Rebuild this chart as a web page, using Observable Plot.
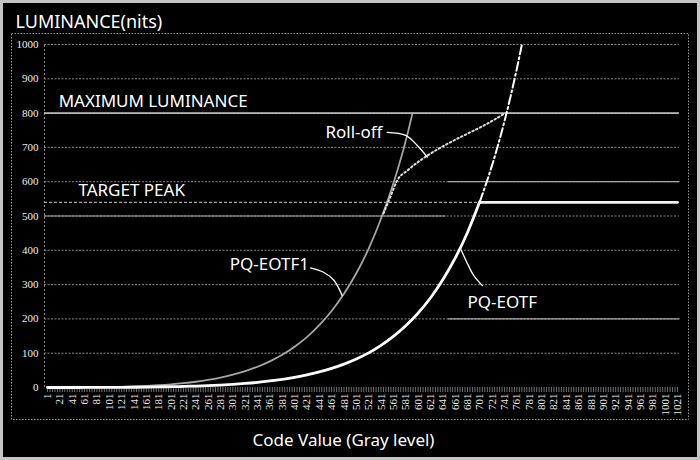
<!DOCTYPE html>
<html><head><meta charset="utf-8">
<script src="https://cdn.jsdelivr.net/npm/d3@7"></script>
<script src="https://cdn.jsdelivr.net/npm/@observablehq/plot@0.6"></script>
<style>
html,body{margin:0;padding:0;background:#000;}
#chart svg{display:block;outline:3px solid #c4c4c4;outline-offset:-3px;}
</style></head><body><div id="chart"></div>
<script>
// ---- data ----
const xTicks = [1,21,41,61,81,101,121,141,161,181,201,221,241,261,281,301,321,341,361,381,401,421,441,461,481,501,521,541,561,581,601,621,641,661,681,701,721,741,761,781,801,821,841,861,881,901,921,941,961,981,1001,1021];
const yTicks = [0,100,200,300,400,500,600,700,800,900,1000];

// PQ-EOTF (white, solid part up to the target peak)
const pqCodes = [1,21,41,61,81,101,121,141,161,181,201,221,241,261,281,301,321,341,361,381,401,421,441,461,481,501,521,541,561,581,601,621,641,661,681,701];
const pqNits  = [0,0.01,0.04,0.09,0.18,0.31,0.51,0.78,1.16,1.65,2.3,3.1,4.2,5.5,7.2,9.3,11.9,15.1,19.1,23.9,29.7,36.8,45.4,55.7,68.2,83.2,101,123,149,180,217,261,314,377,452,542];
// PQ-EOTF above the target peak (dash-dot)
const pqUpperCodes = [701,721,741,761,771];
const pqUpperNits  = [542,649,777,930,1017];
// clipped PQ-EOTF (flat at target peak)
const clipCodes = [701,1021];
const clipNits  = [540,540];
// PQ-EOTF1 (gray)
const pq1Codes = [1,21,41,61,81,101,121,141,161,181,201,221,241,261,281,301,321,341,361,381,401,421,441,461,481,501,521,541,561,581,592];
const pq1Nits  = [0,0.04,0.16,0.36,0.72,1.24,2.0,3.1,4.6,6.6,9.2,12.5,16.8,22.2,28.9,37.3,47.7,60.5,76.2,95.4,119,147,182,223,273,333,405,492,595,719,800];
// Roll-off (dotted)
const rollCodes = [545,556,567,584,616,648,681,713,742];
const rollNits  = [508,555,603,633,676,710,740,769,800];

const maxLuminance = 800;
const targetPeak = 540;
const targetEndCode = 701;

// brighter grid segments seen in the picture
const accentNits = [500,600,200];
const accentFrom = [-3.9,650,650];
const accentTo   = [646,1025,1025];

// annotations
const labelTexts = ["MAXIMUM LUMINANCE","TARGET PEAK","Roll-off","PQ-EOTF1","PQ-EOTF"];
const labelCodes = [19,51,451,296,681];
const labelNits  = [835,573,744,359,249];

const leaderIds   = ["r","r","r","r","a","a","a","a","b","b","b","b"];
const leaderCodes = [551,581,600,616, 427,448,465,478, 670,681,691,705];
const leaderNits  = [744,735,705,672, 349,336,312,268, 404,361,327,297];

// ---- tables ----
const rows = (cs, vs) => cs.map((c,i)=>({code:c, nits:vs[i]}));
const pq = rows(pqCodes,pqNits);
const pqUpper = rows(pqUpperCodes,pqUpperNits);
const clip = rows(clipCodes,clipNits);
const pq1 = rows(pq1Codes,pq1Nits);
const roll = rows(rollCodes,rollNits);
const accents = accentNits.map((v,i)=>({nits:v, from:accentFrom[i], to:accentTo[i]}));
const labels = labelTexts.map((t,i)=>({text:t, code:labelCodes[i], nits:labelNits[i]}));
const leaders = leaderIds.map((id,i)=>({id, code:leaderCodes[i], nits:leaderNits[i]}));
const denseTicks = d3.range(1,1024,4);

const xMin = -3.9, xMax = 1025.9, gridEnd = 1024;
const font = "'Noto Sans', sans-serif";
const plain = d => String(d);

const chart = Plot.plot({
  width:700, height:460,
  marginLeft:44, marginRight:20, marginTop:44, marginBottom:73,
  style:{background:"#000", color:"#fff", fontFamily:font},
  x:{type:"linear", domain:[xMin,xMax], axis:null, label:null},
  y:{domain:[0,1000], axis:null, label:null},
  marks:[
    Plot.frame({stroke:"#9a9a9a", strokeDasharray:"1.5,1.5", insetLeft:-33, insetRight:-8, insetTop:-11, insetBottom:-32}),
    Plot.ruleY(yTicks.filter(d=>d>0), {x1:xMin, x2:gridEnd, stroke:"#8a8a8a", strokeDasharray:"2,1.5", strokeWidth:1}),
    Plot.ruleY(accents, {y:"nits", x1:"from", x2:"to", stroke:"#a8a8a8", strokeWidth:1.2}),
    Plot.ruleX([xMin], {y1:0, y2:1000, stroke:"#8a8a8a", strokeDasharray:"2,2"}),
    Plot.ruleY([maxLuminance], {x1:xMin, x2:gridEnd, stroke:"#b8b8b8", strokeWidth:1.6}),
    Plot.ruleY([targetPeak], {x1:xMin, x2:targetEndCode, stroke:"#a8a8a8", strokeDasharray:"3,2", strokeWidth:1.2}),
    Plot.axisY(yTicks, {anchor:"left", tickSize:0, tickPadding:6, tickFormat:plain, fontFamily:"'Liberation Serif', serif", fontSize:11, fill:"#eeeeee", label:null}),
    Plot.axisX(denseTicks, {anchor:"bottom", tickSize:5, fill:"none", stroke:"#a0a0a0", strokeWidth:0.7, label:null}),
    Plot.axisX(xTicks, {anchor:"bottom", tickSize:0, tickPadding:6, tickRotate:-90, tickFormat:plain, fontFamily:"'Liberation Serif', serif", fontSize:11, fill:"#eeeeee", label:null}),
    Plot.line(pq1, {x:"code", y:"nits", stroke:"#a6a6a6", strokeWidth:1.8, curve:"monotone-x"}),
    Plot.line(roll, {x:"code", y:"nits", stroke:"#e0e0e0", strokeWidth:2, strokeDasharray:"1.6,2.6", curve:"monotone-x"}),
    Plot.line(pqUpper, {x:"code", y:"nits", stroke:"#fff", strokeWidth:2, strokeDasharray:"9,3,2,3", curve:"monotone-x", clip:true}),
    Plot.line(clip, {x:"code", y:"nits", stroke:"#f2f2f2", strokeWidth:2.8}),
    Plot.line(pq, {x:"code", y:"nits", stroke:"#fff", strokeWidth:2.8, curve:"monotone-x"}),
    Plot.line(leaders, {x:"code", y:"nits", z:"id", stroke:"#fff", strokeWidth:1.3, curve:"catmull-rom"}),
    Plot.text(labels, {x:"code", y:"nits", text:"text", textAnchor:"start", lineAnchor:"middle", fontSize:17, fill:"#fff"}),
    Plot.text(["LUMINANCE(nits)"], {frameAnchor:"top-left", dx:-29, dy:-22.5, textAnchor:"start", lineAnchor:"middle", fontSize:18, fill:"#fff"}),
    Plot.text(["Code Value (Gray level)"], {frameAnchor:"bottom", dx:-19, dy:53, lineAnchor:"middle", fontSize:17, fill:"#fff"})
  ]
});
document.getElementById("chart").appendChild(chart);
</script></body></html>
